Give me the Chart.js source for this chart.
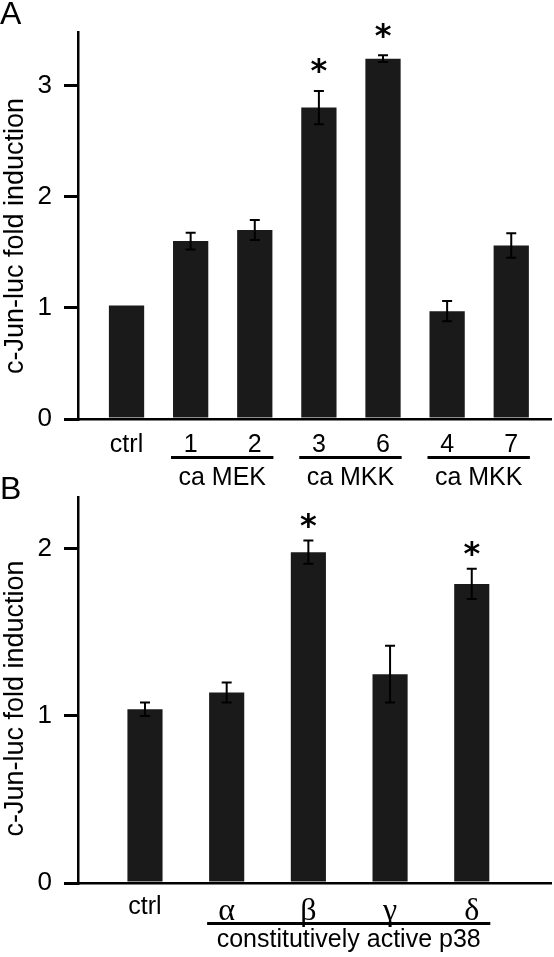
<!DOCTYPE html>
<html>
<head>
<meta charset="utf-8">
<script src="https://cdn.jsdelivr.net/npm/chart.js@4.4.1/dist/chart.umd.min.js"></script>
<style>
body { margin: 0; background: #fff; }
#wrap { position: relative; width: 554px; height: 957px; background: #fff; }
canvas { position: absolute; left: 0; }
#chartA { top: 0; }
#chartB { top: 462px; }
</style>
</head>
<body>
<div id="wrap">
<canvas id="chartB" width="554" height="495"></canvas>
<canvas id="chartA" width="554" height="500"></canvas>
</div>
<script>
// panel A
const catsA = ['ctrl', '1', '2', '3', '6', '4', '7']
const valsA = [1.02, 1.60, 1.70, 2.80, 3.24, 0.97, 1.56]
const errsA = [0, 0.075, 0.09, 0.15, 0.03, 0.09, 0.11]
const starsA = [0, 0, 0, 1, 1, 0, 0]
const groupsA = ['ca MEK', 'ca MKK', 'ca MKK']
const spansA = [[1, 2], [3, 4], [5, 6]]
const yTicksA = [0, 1, 2, 3]

// panel B
const catsB = ['ctrl', 'α', 'β', 'γ', 'δ']
const valsB = [1.04, 1.14, 1.98, 1.25, 1.79]
const errsB = [0.04, 0.06, 0.07, 0.17, 0.09]
const starsB = [0, 0, 1, 0, 1]
const groupsB = ['constitutively active p38']
const spansB = [[1, 4]]
const yTicksB = [0, 1, 2]

const yTitle = 'c-Jun-luc fold induction'
const sans = "'Liberation Sans', Arial, sans-serif"
const serif = "'Liberation Serif', 'Times New Roman', serif"

function decor(p) {
  return {
    id: 'decor',
    afterDatasetsDraw(chart) {
      const ctx = chart.ctx
      const bars = chart.getDatasetMeta(0).data
      const y = chart.scales.y
      ctx.save()
      ctx.strokeStyle = '#000'
      ctx.fillStyle = '#000'
      // error bars
      ctx.lineWidth = 2
      p.errs.forEach((e, i) => {
        if (!e) return
        const b = bars[i]
        const yt = y.getPixelForValue(p.vals[i] + e)
        const yb = y.getPixelForValue(p.vals[i] - e)
        ctx.beginPath()
        ctx.moveTo(b.x, yt); ctx.lineTo(b.x, yb)
        ctx.moveTo(b.x - 5, yt); ctx.lineTo(b.x + 5, yt)
        ctx.moveTo(b.x - 5, yb); ctx.lineTo(b.x + 5, yb)
        ctx.stroke()
      })
      // asterisks
      ctx.font = "bold 32px 'DejaVu Sans', sans-serif"
      ctx.textAlign = 'center'
      ctx.textBaseline = 'alphabetic'
      const m = ctx.measureText('*')
      const shift = (m.actualBoundingBoxAscent - m.actualBoundingBoxDescent) / 2
      p.stars.forEach((s, i) => {
        if (!s) return
        const yc = y.getPixelForValue(p.vals[i] + p.errs[i]) - p.starGap
        ctx.fillText('*', bars[i].x, yc + shift)
      })
      // group lines and labels
      ctx.lineWidth = 3
      ctx.font = '25px ' + sans
      ctx.textBaseline = 'middle'
      p.spans.forEach((sp, k) => {
        const a = bars[sp[0]], b = bars[sp[1]]
        const x1 = a.x - a.width / 2 - 2, x2 = b.x + b.width / 2 + 1
        ctx.beginPath()
        ctx.moveTo(x1, p.lineY); ctx.lineTo(x2, p.lineY)
        ctx.stroke()
        ctx.fillText(p.groups[k], (x1 + x2) / 2, p.labelY)
      })
      // y title
      ctx.save()
      ctx.translate(23, p.titleY)
      ctx.rotate(-Math.PI / 2)
      ctx.font = '27px ' + sans
      ctx.textBaseline = 'alphabetic'
      ctx.fillText(yTitle, 0, 0)
      ctx.restore()
      // panel letter
      ctx.font = '32px ' + sans
      ctx.textAlign = 'left'
      ctx.textBaseline = 'alphabetic'
      ctx.fillText(p.letter, 0, p.letterY)
      ctx.restore()
    }
  }
}

function makeChart(id, cats, vals, p) {
  return new Chart(document.getElementById(id), {
    type: 'bar',
    data: {
      datasets: [{
        data: cats.map((c, i) => ({ x: i, y: vals[i] })),
        backgroundColor: '#1a1a1a',
        barPercentage: p.barPct,
        categoryPercentage: 1
      }]
    },
    options: {
      responsive: false,
      animation: false,
      layout: { padding: { top: p.top, right: 3, left: 0, bottom: 0 } },
      plugins: { legend: { display: false }, tooltip: { enabled: false } },
      scales: {
        x: {
          type: 'linear',
          offset: false,
          min: p.xMin,
          max: p.xMax,
          afterBuildTicks: s => { s.ticks = cats.map((c, i) => ({ value: i })) },
          afterFit: s => { s.height = p.xHeight },
          grid: { display: false, drawTicks: false, offset: false },
          border: { display: true, color: '#000', width: 2.5 },
          ticks: {
            color: '#000',
            padding: p.xPad,
            maxRotation: 0,
            autoSkip: false,
            font: c => (p.greek && c.index > 0) ? { family: serif, size: 32 } : { family: sans, size: 25 },
            callback: v => cats[v]
          }
        },
        y: {
          min: 0,
          max: p.yMax,
          afterBuildTicks: s => { s.ticks = p.yTicks.map(v => ({ value: v })) },
          afterFit: s => { s.width = 78 },
          grid: { display: true, drawOnChartArea: false, drawTicks: true, tickLength: 14, lineWidth: 3, color: '#000' },
          border: { display: true, color: '#000', width: 2.5 },
          ticks: { color: '#000', padding: 12, font: { family: sans, size: 26 } }
        }
      }
    },
    plugins: [decor(p)]
  })
}

makeChart('chartA', catsA, valsA, {
  errs: errsA, vals: valsA, stars: starsA, groups: groupsA, spans: spansA, yTicks: yTicksA,
  top: 32, xHeight: 81, xPad: 11, xMin: -0.757, xMax: 6.62, yMax: 3.48, barPct: 0.55,
  starGap: 25, lineY: 457.5, labelY: 478, titleY: 236, letter: 'A', letterY: 24, greek: false
})

makeChart('chartB', catsB, valsB, {
  errs: errsB, vals: valsB, stars: starsB, groups: groupsB, spans: spansB, yTicks: yTicksB,
  top: 35, xHeight: 74, xPad: 9, xMin: -0.82, xMax: 4.97, yMax: 2.31, barPct: 0.43,
  starGap: 20, lineY: 461.5, labelY: 478, titleY: 236.5, letter: 'B', letterY: 37, greek: true
})
</script>
</body>
</html>
